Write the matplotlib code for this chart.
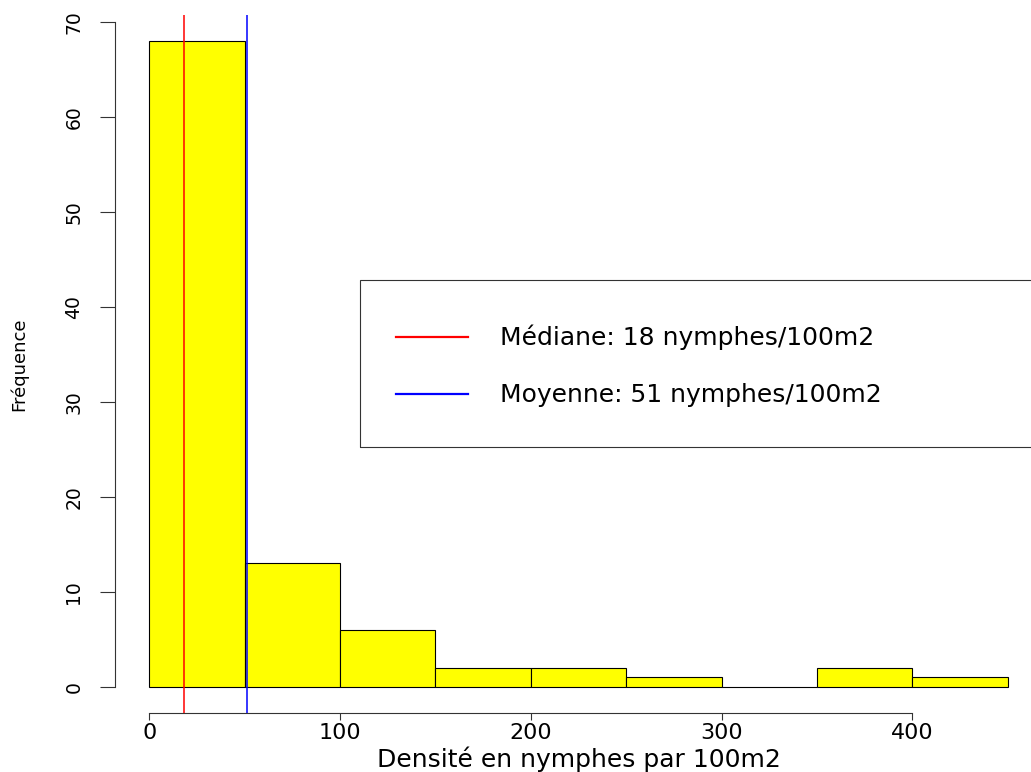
import matplotlib
matplotlib.use('Agg')
import matplotlib.pyplot as plt
from matplotlib.patches import Rectangle

# densite des nymphes : classes de 50 et effectifs
bin_edges = [0, 50, 100, 150, 200, 250, 300, 350, 400, 450]
counts = [68, 13, 6, 2, 2, 1, 0, 2, 1]
mediane = 18
moyenne = 51

xticks = [0, 100, 200, 300, 400]
yticks = [0, 10, 20, 30, 40, 50, 60, 70]

W, H = 1031, 772
narrow = ['Liberation Sans Narrow', 'DejaVu Sans']
wide = ['DejaVu Sans']

fig = plt.figure(figsize=(W / 100, H / 100), dpi=100)
# zone de trace en pixels (gauche, bas, droite, haut)
l, b, r, t = 115, 713, 1042, 15
ax = fig.add_axes([l / W, (H - b) / H, (r - l) / W, (b - t) / H])
ax.set_xlim(-18, 468)
ax.set_ylim(-2.74, 70.74)

lefts = bin_edges[:-1]
widths = [bin_edges[i + 1] - bin_edges[i] for i in range(len(lefts))]
ax.bar(lefts, counts, width=widths, align='edge', color='#ffff00',
       edgecolor='black', linewidth=0.8)

l_med = ax.axvline(mediane, color='red', lw=1.1)
l_moy = ax.axvline(moyenne, color='blue', lw=1.1)

for s in ['top', 'right']:
    ax.spines[s].set_visible(False)
ax.spines['left'].set_bounds(0, 70)
ax.spines['bottom'].set_bounds(0, 400)
ax.spines['left'].set_color('#333333')
ax.spines['bottom'].set_color('#333333')

ax.set_xticks(xticks)
ax.set_yticks(yticks)
ax.tick_params(axis='x', length=5.0, width=0.8, pad=2, labelsize=16,
               color='#333333')
ax.tick_params(axis='y', length=10.8, width=0.8, pad=12, labelsize=13.5,
               color='#333333')
for lab in ax.get_xticklabels():
    lab.set_family(wide)
for lab in ax.get_yticklabels():
    lab.set_family(narrow)
    lab.set_rotation(90)
    lab.set_va('center')

ax.set_xlabel('Densité en nymphes par 100m2', fontsize=18, family=wide,
              va='baseline')
ax.xaxis.set_label_coords(0.5, -0.0774)
ax.set_ylabel('Fréquence', fontsize=13, family=narrow, va='center')
ax.yaxis.set_label_coords(-0.1036, 0.5)

# cadre de la legende, coupe par le bord droit
fig.patches.append(Rectangle((360 / W, (H - 447) / H), 800 / W, 167 / H,
                             transform=fig.transFigure, fill=False,
                             edgecolor='#333333', lw=0.8))
leg = fig.legend([l_med, l_moy],
                 ['Médiane: %d nymphes/100m2' % mediane,
                  'Moyenne: %d nymphes/100m2' % moyenne],
                 loc='center left', bbox_to_anchor=(383 / W, (H - 366) / H),
                 frameon=False, prop={'family': wide, 'size': 18},
                 handlelength=2.9, handletextpad=1.3, labelspacing=1.32,
                 borderpad=0)
for ln in leg.get_lines():
    ln.set_linewidth(1.6)

fig.savefig('out.png', dpi=100)
